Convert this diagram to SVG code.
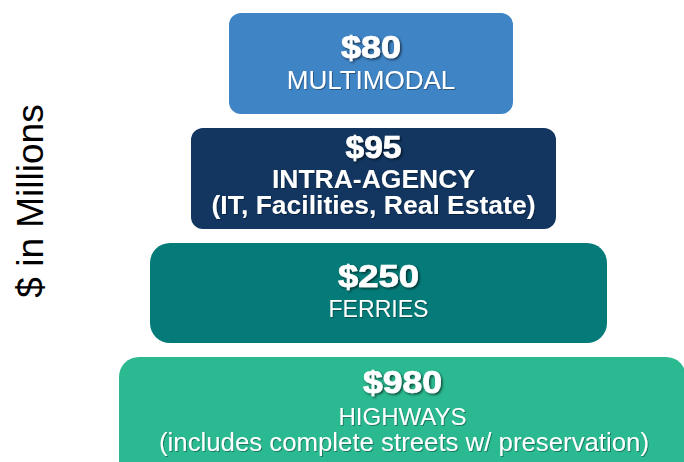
<svg xmlns="http://www.w3.org/2000/svg" width="684" height="462" viewBox="0 0 684 462">
<defs>
<filter id="sh" x="-20%" y="-30%" width="140%" height="160%">
<feDropShadow dx="1.5" dy="1.5" stdDeviation="1" flood-color="#000" flood-opacity="0.6"/>
</filter>
<filter id="sh2" x="-10%" y="-30%" width="120%" height="160%">
<feDropShadow dx="1" dy="1" stdDeviation="0.6" flood-color="#000" flood-opacity="0.35"/>
</filter>
</defs>
<style>
.num{font-family:"Liberation Sans",Arial,sans-serif;font-weight:bold;font-size:31px;fill:#fff;stroke:#fff;stroke-width:0.7px;text-anchor:middle;filter:url(#sh)}
.lbl{font-family:"Liberation Sans",Arial,sans-serif;fill:#fff;text-anchor:middle;filter:url(#sh2)}
.b{font-weight:bold;font-size:26.5px}
.n24{font-size:24px}
.n26{font-size:26px}
</style>
<rect width="684" height="462" fill="#fff"/>
<text transform="translate(43,201) rotate(-90)" font-family="Liberation Sans, Arial, sans-serif" font-size="37" fill="#000" text-anchor="middle">$ in Millions</text>
<g id="multimodal">
<rect x="229" y="13" width="284" height="101" rx="12" fill="#3F84C5"/>
<text class="num" x="371" y="58" textLength="60" lengthAdjust="spacingAndGlyphs">$80</text>
<text class="lbl n26" x="371" y="89">MULTIMODAL</text>
</g>
<g id="intra-agency">
<rect x="191" y="128" width="365" height="101" rx="12" fill="#123660"/>
<text class="num" x="373.5" y="158" textLength="56" lengthAdjust="spacingAndGlyphs">$95</text>
<text class="lbl b" x="373.5" y="188">INTRA-AGENCY</text>
<text class="lbl b" x="373.5" y="214">(IT, Facilities, Real Estate)</text>
</g>
<g id="ferries">
<rect x="150" y="243" width="457" height="100" rx="20" fill="#047B78"/>
<text class="num" x="378.5" y="287" textLength="81" lengthAdjust="spacingAndGlyphs">$250</text>
<text class="lbl n24" x="378.5" y="317" textLength="100" lengthAdjust="spacingAndGlyphs">FERRIES</text>
</g>
<g id="highways">
<rect x="119" y="357" width="567" height="130" rx="20" fill="#2AB991"/>
<text class="num" x="402.5" y="393" textLength="79" lengthAdjust="spacingAndGlyphs">$980</text>
<text class="lbl n24" x="402.5" y="425">HIGHWAYS</text>
<text class="lbl n26" x="404" y="451" textLength="490" lengthAdjust="spacingAndGlyphs">(includes complete streets w/ preservation)</text>
</g>
<g id="connectors"/>
</svg>
